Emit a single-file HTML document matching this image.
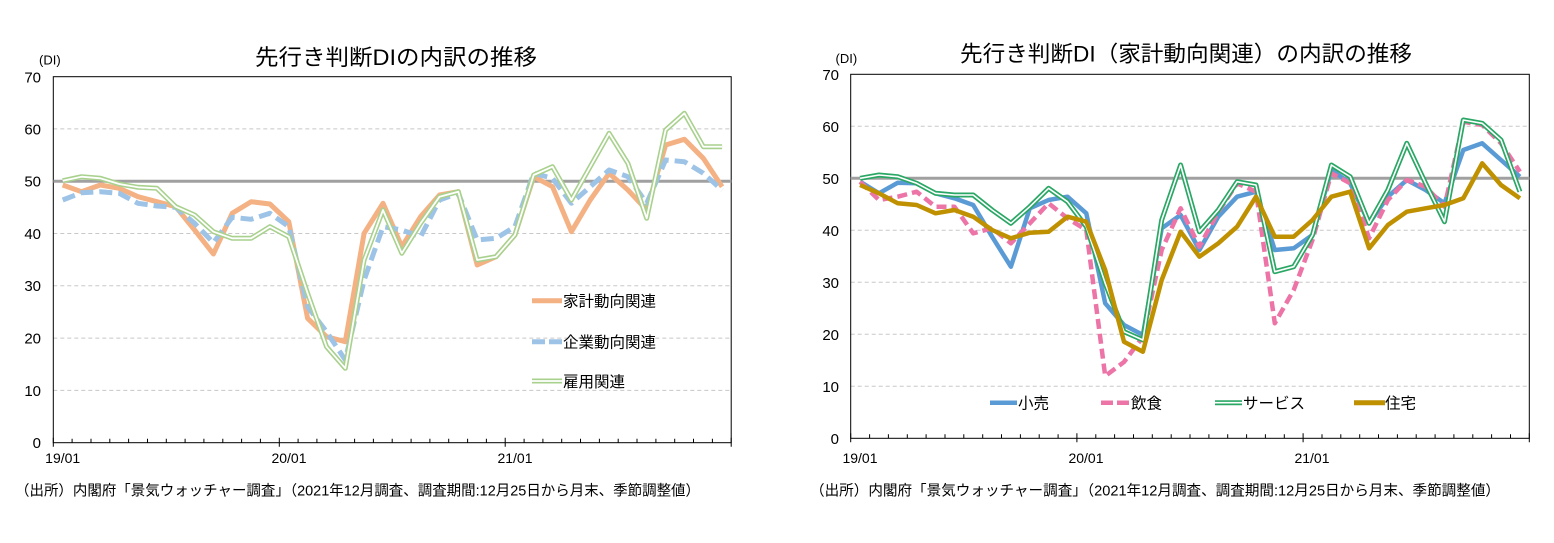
<!DOCTYPE html>
<html><head><meta charset="utf-8"><style>
html,body{margin:0;padding:0;background:#fff;}
svg{display:block;}
text{font-family:"Liberation Sans","Noto Sans CJK JP",sans-serif;fill:#000;}
</style></head><body>
<svg width="1554" height="543" viewBox="0 0 1554 543" xmlns="http://www.w3.org/2000/svg">
<rect width="1554" height="543" fill="#fff"/>

<!-- ================= LEFT CHART ================= -->
<text x="255" y="65" font-size="22" textLength="282" lengthAdjust="spacingAndGlyphs">先行き判断DIの内訳の推移</text>
<text x="39" y="64.5" font-size="13">(DI)</text>

<g stroke="#c8c8c8" stroke-width="1" stroke-dasharray="4,3">
<line x1="53.3" y1="128.9" x2="731.2" y2="128.9"/>
<line x1="53.3" y1="233.5" x2="731.2" y2="233.5"/>
<line x1="53.3" y1="285.8" x2="731.2" y2="285.8"/>
<line x1="53.3" y1="338.1" x2="731.2" y2="338.1"/>
<line x1="53.3" y1="390.4" x2="731.2" y2="390.4"/>
</g>
<rect x="53.3" y="76.7" width="677.9" height="366" fill="none" stroke="#000" stroke-width="1"/>
<line x1="53.3" y1="181.2" x2="731.2" y2="181.2" stroke="#a0a0a0" stroke-width="3"/>

<g font-size="15" text-anchor="end">
<text x="41" y="82.5">70</text><text x="41" y="134.5">60</text><text x="41" y="186.5">50</text>
<text x="41" y="239">40</text><text x="41" y="291">30</text><text x="41" y="343.5">20</text>
<text x="41" y="396">10</text><text x="41" y="448">0</text>
</g>
<path d="M72.1 442.7v-4M91 442.7v-4M109.8 442.7v-4M128.6 442.7v-4M147.5 442.7v-4M166.3 442.7v-4M185.1 442.7v-4M203.9 442.7v-4M222.8 442.7v-4M241.6 442.7v-4M260.4 442.7v-4M298.1 442.7v-4M316.9 442.7v-4M335.8 442.7v-4M354.6 442.7v-4M373.4 442.7v-4M392.2 442.7v-4M411.1 442.7v-4M429.9 442.7v-4M448.7 442.7v-4M467.6 442.7v-4M486.4 442.7v-4M524.1 442.7v-4M542.9 442.7v-4M561.7 442.7v-4M580.5 442.7v-4M599.4 442.7v-4M618.2 442.7v-4M637 442.7v-4M655.9 442.7v-4M674.7 442.7v-4M693.5 442.7v-4M712.4 442.7v-4M53.3 437.7v9M279.3 437.7v9M505.2 437.7v9M731.2 437.7v9" stroke="#000" stroke-width="1" fill="none"/>
<g font-size="14" text-anchor="middle">
<text x="62.7" y="463">19/01</text><text x="289" y="463">20/01</text><text x="515" y="463">21/01</text>
</g>

<g fill="none" stroke-linejoin="round">
<polyline stroke="#F4B183" stroke-width="5" points="62.7,185 81.5,191.7 100.4,185 119.2,188.3 138,196.7 156.9,201.7 175.7,206.7 194.6,230 213.4,254 232.2,213.3 251.1,201.7 269.9,204 288.8,221.7 307.6,318.3 326.5,336.7 345.3,341.7 364.1,233.3 383,203.3 401.8,246.7 420.6,216.7 439.5,195 458.3,191.7 477.2,265 496,256.7 514.9,235 533.7,176.7 552.5,186.7 571.4,231.7 590.2,200 609.1,173.3 627.9,190 646.7,210 665.6,145 684.4,139.3 703.3,158.3 722.1,186.7"/>
<polyline stroke="#9DC3E6" stroke-width="5" stroke-dasharray="13,6" points="62.7,200 81.5,192.7 100.4,191.7 119.2,193.3 138,203.3 156.9,206 175.7,207.3 194.6,223.3 213.4,242.7 232.2,217.3 251.1,219.3 269.9,213.3 288.8,226.7 307.6,306.7 326.5,331.7 345.3,360 364.1,280 383,226.7 401.8,230 420.6,236.7 439.5,200 458.3,193.3 477.2,240 496,238.3 514.9,226.7 533.7,173.3 552.5,178.3 571.4,203.3 590.2,186.7 609.1,170 627.9,176.7 646.7,203.3 665.6,160 684.4,161.7 703.3,173.3 722.1,190"/>
<polyline stroke="#A9D18E" stroke-width="5" points="62.7,180.7 81.5,176.7 100.4,178.3 119.2,184 138,187.3 156.9,188.3 175.7,206.7 194.6,215 213.4,231.7 232.2,238.3 251.1,238.3 269.9,226.7 288.8,236.7 307.6,293.3 326.5,346.7 345.3,368.3 364.1,260 383,210 401.8,253.3 420.6,223.3 439.5,196.7 458.3,191.7 477.2,260 496,256.7 514.9,235 533.7,175 552.5,166.7 571.4,200 590.2,166.7 609.1,133.3 627.9,163.3 646.7,218.3 665.6,130 684.4,113.3 703.3,146.7 722.1,146.7"/>
<polyline stroke="#fff" stroke-width="1.8" points="62.7,180.7 81.5,176.7 100.4,178.3 119.2,184 138,187.3 156.9,188.3 175.7,206.7 194.6,215 213.4,231.7 232.2,238.3 251.1,238.3 269.9,226.7 288.8,236.7 307.6,293.3 326.5,346.7 345.3,368.3 364.1,260 383,210 401.8,253.3 420.6,223.3 439.5,196.7 458.3,191.7 477.2,260 496,256.7 514.9,235 533.7,175 552.5,166.7 571.4,200 590.2,166.7 609.1,133.3 627.9,163.3 646.7,218.3 665.6,130 684.4,113.3 703.3,146.7 722.1,146.7"/>
</g>

<!-- left legend -->
<line x1="532" y1="300.7" x2="562" y2="300.7" stroke="#F4B183" stroke-width="5"/>
<text x="563" y="306.5" font-size="15.5">家計動向関連</text>
<line x1="532" y1="341.7" x2="562" y2="341.7" stroke="#9DC3E6" stroke-width="5" stroke-dasharray="13,4"/>
<text x="563" y="347.5" font-size="15.5">企業動向関連</text>
<line x1="532" y1="381" x2="562" y2="381" stroke="#A9D18E" stroke-width="5"/>
<line x1="532" y1="381" x2="562" y2="381" stroke="#fff" stroke-width="1.8"/>
<text x="563" y="386.8" font-size="15.5">雇用関連</text>

<text x="15" y="495.5" font-size="14.5" textLength="685" lengthAdjust="spacingAndGlyphs">（出所）内閣府「景気ウォッチャー調査」（2021年12月調査、調査期間:12月25日から月末、季節調整値）</text>

<!-- ================= RIGHT CHART ================= -->
<text x="960" y="61.5" font-size="22" textLength="452" lengthAdjust="spacingAndGlyphs">先行き判断DI（家計動向関連）の内訳の推移</text>
<text x="835.5" y="62.8" font-size="13">(DI)</text>

<g stroke="#c8c8c8" stroke-width="1" stroke-dasharray="4,3">
<line x1="850.7" y1="126.3" x2="1529.3" y2="126.3"/>
<line x1="850.7" y1="230.3" x2="1529.3" y2="230.3"/>
<line x1="850.7" y1="282.3" x2="1529.3" y2="282.3"/>
<line x1="850.7" y1="334.3" x2="1529.3" y2="334.3"/>
<line x1="850.7" y1="386.3" x2="1529.3" y2="386.3"/>
</g>
<rect x="850.7" y="74.3" width="678.6" height="364" fill="none" stroke="#000" stroke-width="1"/>
<line x1="850.7" y1="178.3" x2="1529.3" y2="178.3" stroke="#a0a0a0" stroke-width="3"/>

<g font-size="15" text-anchor="end">
<text x="839" y="79.8">70</text><text x="839" y="131.8">60</text><text x="839" y="183.8">50</text>
<text x="839" y="235.8">40</text><text x="839" y="287.8">30</text><text x="839" y="339.8">20</text>
<text x="839" y="391.8">10</text><text x="839" y="443.8">0</text>
</g>
<path d="M869.6 438.3v-4M888.4 438.3v-4M907.3 438.3v-4M926.1 438.3v-4M945 438.3v-4M963.8 438.3v-4M982.7 438.3v-4M1001.5 438.3v-4M1020.4 438.3v-4M1039.2 438.3v-4M1058.1 438.3v-4M1095.8 438.3v-4M1114.6 438.3v-4M1133.5 438.3v-4M1152.3 438.3v-4M1171.2 438.3v-4M1190 438.3v-4M1208.9 438.3v-4M1227.7 438.3v-4M1246.6 438.3v-4M1265.4 438.3v-4M1284.3 438.3v-4M1322 438.3v-4M1340.8 438.3v-4M1359.7 438.3v-4M1378.5 438.3v-4M1397.4 438.3v-4M1416.2 438.3v-4M1435.1 438.3v-4M1453.9 438.3v-4M1472.8 438.3v-4M1491.6 438.3v-4M1510.5 438.3v-4M850.7 433.3v9M1076.9 433.3v9M1303.1 433.3v9M1529.3 433.3v9" stroke="#000" stroke-width="1" fill="none"/>
<g font-size="14" text-anchor="middle">
<text x="860" y="463">19/01</text><text x="1086" y="463">20/01</text><text x="1312" y="463">21/01</text>
</g>

<g fill="none" stroke-linejoin="round">
<polyline stroke="#5B9BD5" stroke-width="4.5" points="860.1,181.7 879,193.3 897.8,182.7 916.7,183.3 935.5,193.3 954.4,198.3 973.2,205 992.1,236.7 1010.9,266.7 1029.8,208.3 1048.6,200 1067.5,196.7 1086.3,213.3 1105.2,303.3 1124,325 1142.9,335 1161.7,228.3 1180.6,215 1199.4,250 1218.3,216.7 1237.1,196.7 1256,191.7 1274.8,250 1293.7,248.3 1312.5,235 1331.4,170 1350.2,183.3 1369.1,223.3 1387.9,196.7 1406.8,180 1425.6,190 1444.5,203.3 1463.3,150 1482.2,143.3 1501,160 1519.9,176.7"/>
<polyline stroke="#EC74A6" stroke-width="4.5" stroke-dasharray="10,5" points="860.1,181.7 879,200 897.8,196.7 916.7,191.7 935.5,206.7 954.4,206.7 973.2,233.3 992.1,228.3 1010.9,243.3 1029.8,223.3 1048.6,203.3 1067.5,218.3 1086.3,230 1105.2,376 1124,362 1142.9,336.7 1161.7,250 1180.6,208.3 1199.4,246.7 1218.3,211.7 1237.1,183.3 1256,191.7 1274.8,323.3 1293.7,290 1312.5,240 1331.4,173.3 1350.2,183.3 1369.1,238.3 1387.9,200 1406.8,180 1425.6,186.7 1444.5,206.7 1463.3,121.7 1482.2,125 1501,143.3 1519.9,171.7"/>
<polyline stroke="#2AA765" stroke-width="5" points="860.1,178.3 879,175 897.8,176.7 916.7,183.3 935.5,193.3 954.4,195 973.2,195 992.1,210 1010.9,223.3 1029.8,206.7 1048.6,188.3 1067.5,201.7 1086.3,226.7 1105.2,283.3 1124,331.7 1142.9,340 1161.7,220 1180.6,165 1199.4,231.7 1218.3,210 1237.1,181.7 1256,185 1274.8,271.7 1293.7,266.7 1312.5,235 1331.4,165 1350.2,176.7 1369.1,223.3 1387.9,190 1406.8,143.3 1425.6,183.3 1444.5,221.7 1463.3,120 1482.2,123.3 1501,140 1519.9,191.7"/>
<polyline stroke="#fff" stroke-width="1.6" points="860.1,178.3 879,175 897.8,176.7 916.7,183.3 935.5,193.3 954.4,195 973.2,195 992.1,210 1010.9,223.3 1029.8,206.7 1048.6,188.3 1067.5,201.7 1086.3,226.7 1105.2,283.3 1124,331.7 1142.9,340 1161.7,220 1180.6,165 1199.4,231.7 1218.3,210 1237.1,181.7 1256,185 1274.8,271.7 1293.7,266.7 1312.5,235 1331.4,165 1350.2,176.7 1369.1,223.3 1387.9,190 1406.8,143.3 1425.6,183.3 1444.5,221.7 1463.3,120 1482.2,123.3 1501,140 1519.9,191.7"/>
<polyline stroke="#BF9000" stroke-width="4.5" points="860.1,185 879,193.3 897.8,203.3 916.7,205 935.5,213.3 954.4,210 973.2,216.7 992.1,230 1010.9,238.3 1029.8,232.7 1048.6,231.7 1067.5,216.7 1086.3,221.7 1105.2,270 1124,341.7 1142.9,351.7 1161.7,280 1180.6,231.7 1199.4,256.7 1218.3,243.3 1237.1,226.7 1256,196.7 1274.8,236.7 1293.7,236.7 1312.5,220 1331.4,196.7 1350.2,191.7 1369.1,248.3 1387.9,225 1406.8,211.7 1425.6,208.3 1444.5,205 1463.3,198.3 1482.2,163.3 1501,185 1519.9,198.3"/>
</g>

<!-- right legend -->
<line x1="990" y1="402.7" x2="1017" y2="402.7" stroke="#5B9BD5" stroke-width="4.5"/>
<text x="1018" y="408.5" font-size="15.5">小売</text>
<line x1="1101" y1="402.7" x2="1130" y2="402.7" stroke="#EC74A6" stroke-width="4.5" stroke-dasharray="12,4"/>
<text x="1131" y="408.5" font-size="15.5">飲食</text>
<line x1="1215" y1="402.7" x2="1242" y2="402.7" stroke="#2AA765" stroke-width="5"/>
<line x1="1215" y1="402.7" x2="1242" y2="402.7" stroke="#fff" stroke-width="1.6"/>
<text x="1243" y="408.5" font-size="15.5">サービス</text>
<line x1="1354" y1="402.7" x2="1385" y2="402.7" stroke="#BF9000" stroke-width="5"/>
<text x="1385" y="408.5" font-size="15.5">住宅</text>

<text x="810" y="495.5" font-size="14.5" textLength="690" lengthAdjust="spacingAndGlyphs">（出所）内閣府「景気ウォッチャー調査」（2021年12月調査、調査期間:12月25日から月末、季節調整値）</text>
</svg>
</body></html>
